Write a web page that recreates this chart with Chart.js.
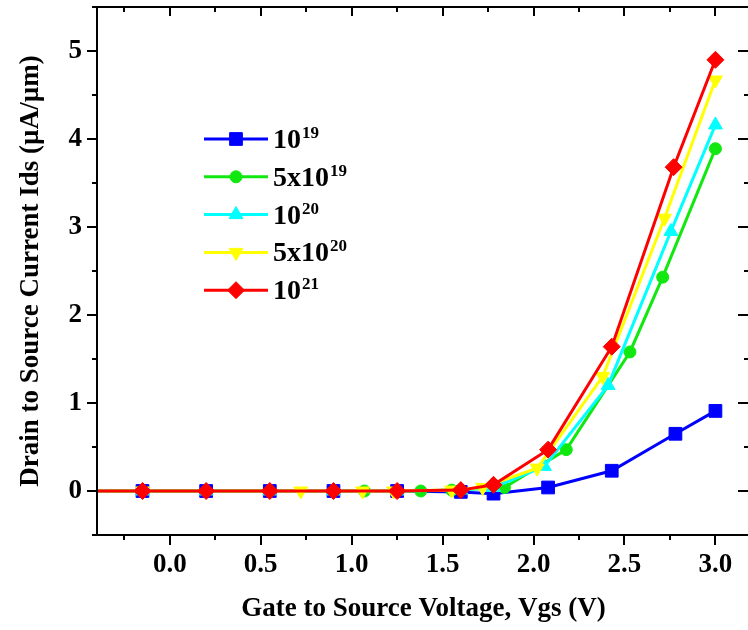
<!DOCTYPE html>
<html>
<head>
<meta charset="utf-8">
<script src="https://cdn.jsdelivr.net/npm/chart.js@4.4.0/dist/chart.umd.min.js"></script>
<style>
    html, body { margin: 0; padding: 0; background: #fff; overflow: hidden; }
    #wrap { width: 752px; height: 630px; }
</style>
</head>
<body>
<div id="wrap"><canvas id="idsChart" width="752" height="630"></canvas></div>
<script>
// tick values
const xTicks = [0, 0.5, 1.0, 1.5, 2.0, 2.5, 3.0];
const yTicks = [0, 1, 2, 3, 4, 5];
const xMinor = [-0.25, 0.25, 0.75, 1.25, 1.75, 2.25, 2.75, 3.25];
const yMinor = [-0.5, 0.5, 1.5, 2.5, 3.5, 4.5, 5.5];

// legend text: [base, superscript]
const seriesNames = [['10', '19'], ['5x10', '19'], ['10', '20'], ['5x10', '20'], ['10', '21']];

// Vgs (V) and Ids (uA/um) for each doping
const vgs19  = [-0.5, -0.15, 0.2, 0.55, 0.9, 1.25, 1.6, 1.78, 2.08, 2.43, 2.78, 3.0];
const ids19  = [0, 0, 0, 0, 0, 0, -0.01, -0.03, 0.04, 0.23, 0.65, 0.91];

const vgs5e19 = [-0.5, 1.07, 1.38, 1.55, 1.84, 2.18, 2.53, 2.71, 3.0];
const ids5e19 = [0, 0, 0, 0.01, 0.04, 0.47, 1.58, 2.43, 3.89];

const vgs20  = [-0.5, -0.15, 0.2, 0.55, 0.9, 1.25, 1.6, 1.78, 2.06, 2.41, 2.755, 3.0];
const ids20  = [0, 0, 0, 0, 0, 0, 0.01, 0.04, 0.28, 1.20, 2.95, 4.16];

const vgs5e20 = [-0.5, -0.15, 0.72, 1.06, 1.23, 1.55, 1.72, 2.02, 2.38, 2.72, 3.0];
const ids5e20 = [0, 0, 0, 0, 0, 0.01, 0.04, 0.26, 1.30, 3.10, 4.67];

const vgs21  = [-0.5, -0.15, 0.2, 0.55, 0.9, 1.25, 1.6, 1.78, 2.08, 2.43, 2.77, 3.0];
const ids21  = [0, 0, 0, 0, 0, 0, 0.01, 0.07, 0.47, 1.64, 3.68, 4.90];

const FONT = '"Liberation Serif", "Times New Roman", serif';

function pts(xs, ys) {
    return xs.map((x, i) => ({ x: x, y: ys[i] }));
}

function serie(label, xs, ys, color, style, radius, rotation, order) {
    return {
        label: label,
        data: pts(xs, ys),
        borderColor: color,
        backgroundColor: color,
        borderWidth: 3,
        pointStyle: style,
        pointRadius: radius,
        pointRotation: rotation,
        pointBorderWidth: 1,
        pointHoverRadius: radius,
        order: order,
        tension: 0
    };
}

const datasets = [
    serie('1e19', vgs19, ids19, '#0000ff', 'rect', 9, 0, 5),
    serie('5e19', vgs5e19, ids5e19, '#10e810', 'circle', 6, 0, 4),
    serie('1e20', vgs20, ids20, '#00ffff', 'triangle', 8, 0, 3),
    serie('5e20', vgs5e20, ids5e20, '#ffff00', 'triangle', 8, 180, 2),
    serie('1e21', vgs21, ids21, '#ff0000', 'rectRot', 8.5, 0, 1)
];

// frame + major/minor ticks, Origin style
const framePlugin = {
    id: 'frame',
    afterDraw(chart) {
        const ctx = chart.ctx;
        const a = chart.chartArea;
        const xs = chart.scales.x, ys = chart.scales.y;
        ctx.save();
        ctx.strokeStyle = '#000';
        ctx.lineWidth = 2;
        ctx.strokeRect(a.left, a.top, a.right - a.left, a.bottom - a.top);
        ctx.beginPath();
        xTicks.forEach(v => {
            const px = Math.round(xs.getPixelForValue(v));
            ctx.moveTo(px, a.bottom); ctx.lineTo(px, a.bottom + 10);
            ctx.moveTo(px, a.top); ctx.lineTo(px, a.top + 9);
        });
        xMinor.forEach(v => {
            const px = Math.round(xs.getPixelForValue(v));
            if (px < a.left || px > a.right) return;
            ctx.moveTo(px, a.bottom); ctx.lineTo(px, a.bottom + 5);
            ctx.moveTo(px, a.top); ctx.lineTo(px, a.top + 5);
        });
        yTicks.forEach(v => {
            const py = Math.round(ys.getPixelForValue(v));
            ctx.moveTo(a.left, py); ctx.lineTo(a.left - 10, py);
            ctx.moveTo(a.right, py); ctx.lineTo(a.right - 12, py);
        });
        yMinor.forEach(v => {
            const py = Math.round(ys.getPixelForValue(v));
            ctx.moveTo(a.left, py); ctx.lineTo(a.left - 5, py);
            ctx.moveTo(a.right, py); ctx.lineTo(a.right - 6, py);
        });
        ctx.stroke();
        ctx.restore();
    }
};

// legend with superscripts
const legendPlugin = {
    id: 'supLegend',
    afterDraw(chart) {
        const ctx = chart.ctx;
        ctx.save();
        datasets.forEach((ds, i) => {
            const y = 139 + i * 37.8;
            ctx.strokeStyle = ds.borderColor;
            ctx.fillStyle = ds.backgroundColor;
            ctx.lineWidth = 3;
            ctx.beginPath();
            ctx.moveTo(204, y);
            ctx.lineTo(268, y);
            ctx.stroke();
            ctx.lineWidth = 1;
            Chart.helpers.drawPoint(ctx, {
                pointStyle: ds.pointStyle,
                radius: ds.pointRadius,
                rotation: ds.pointRotation,
                borderWidth: 1
            }, 236, y);

            ctx.fillStyle = '#000';
            ctx.textBaseline = 'alphabetic';
            ctx.textAlign = 'left';
            ctx.font = 'bold 28px ' + FONT;
            const base = seriesNames[i][0];
            ctx.fillText(base, 273, y + 9);
            const w = ctx.measureText(base).width;
            ctx.font = 'bold 17px ' + FONT;
            ctx.fillText(seriesNames[i][1], 273 + w + 1, y - 1);
        });
        ctx.restore();
    }
};

function noPad(scale) {
    scale.paddingTop = 0;
    scale.paddingBottom = 0;
    scale.paddingLeft = 0;
    scale.paddingRight = 0;
}

new Chart(document.getElementById('idsChart'), {
    type: 'line',
    data: { datasets: datasets },
    options: {
        responsive: false,
        animation: false,
        devicePixelRatio: 1,
        layout: { autoPadding: false, padding: { top: 7, right: 2, left: 0, bottom: 0 } },
        plugins: {
            legend: { display: false },
            tooltip: { enabled: false }
        },
        scales: {
            x: {
                type: 'linear',
                min: -0.4,
                max: 3.19,
                grid: { display: false, drawTicks: false },
                border: { display: false },
                afterBuildTicks: scale => { scale.ticks = xTicks.map(v => ({ value: v })); },
                afterFit: scale => { scale.height = 95; noPad(scale); },
                ticks: {
                    padding: 14,
                    color: '#000',
                    maxRotation: 0,
                    autoSkip: false,
                    font: { family: FONT, size: 27, weight: 'bold' },
                    callback: v => Number(v).toFixed(1)
                },
                title: {
                    display: true,
                    text: 'Gate to Source Voltage, Vgs (V)',
                    color: '#000',
                    padding: { top: 0, bottom: 5 },
                    font: { family: FONT, size: 27, weight: 'bold' }
                }
            },
            y: {
                type: 'linear',
                min: -0.5,
                max: 5.5,
                grid: { display: false, drawTicks: false },
                border: { display: false },
                afterBuildTicks: scale => { scale.ticks = yTicks.map(v => ({ value: v })); },
                afterFit: scale => { scale.width = 97; noPad(scale); },
                ticks: {
                    padding: 15,
                    color: '#000',
                    autoSkip: false,
                    font: { family: FONT, size: 27, weight: 'bold' },
                    callback: v => String(v)
                },
                title: {
                    display: true,
                    text: 'Drain to Source Current Ids (\u00b5A/\u00b5m)',
                    color: '#000',
                    padding: { top: 15, bottom: 0 },
                    font: { family: FONT, size: 27, weight: 'bold' }
                }
            }
        }
    },
    plugins: [framePlugin, legendPlugin]
});
</script>
</body>
</html>
